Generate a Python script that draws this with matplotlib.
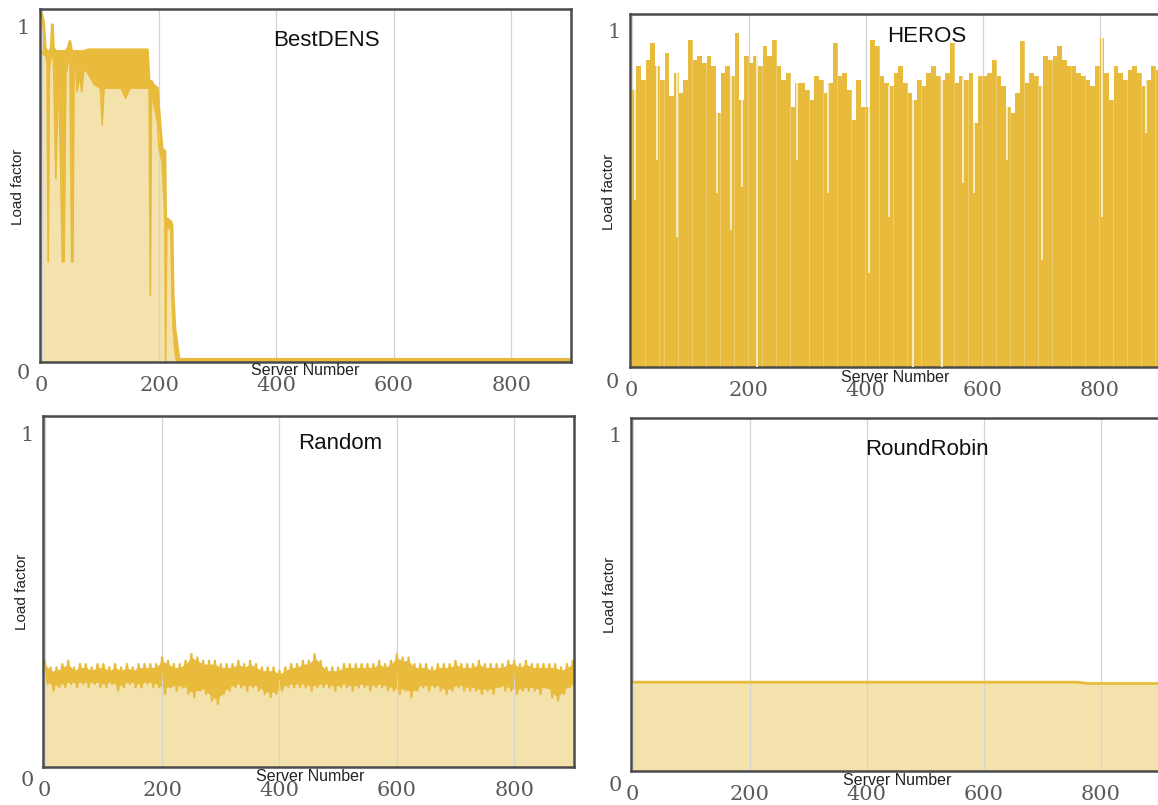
import numpy as np
import matplotlib
matplotlib.use("Agg")
import matplotlib.pyplot as plt

# colores
oro = '#E9BB3C'
oro_claro = '#F4E2AC'
marco = '#4a4a4a'

# BestDENS: envolvente superior / inferior de la carga por servidor
bd_x = [0, 3, 6, 9, 11, 13, 16, 18, 20, 24, 28, 32, 35, 38, 41, 45, 48, 51, 53, 55, 58,
        60, 65, 68, 72, 80, 90, 100, 103, 106, 115, 125, 135, 143, 150, 160, 170, 180,
        183, 185, 187, 190, 197, 200, 205, 210, 211, 213, 220, 222, 224, 227, 230, 234,
        240, 900]
bd_hi = [1.04, 1.02, 0.94, 0.93, 0.93, 0.93, 0.94, 1.01, 0.94, 0.93, 0.93, 0.93, 0.93,
         0.93, 0.93, 0.94, 0.96, 0.93, 0.93, 0.93, 0.93, 0.93, 0.93, 0.93, 0.93, 0.935,
         0.935, 0.935, 0.935, 0.935, 0.935, 0.935, 0.935, 0.935, 0.935, 0.935, 0.935,
         0.935, 0.84, 0.84, 0.84, 0.83, 0.82, 0.75, 0.64, 0.63, 0.43, 0.43, 0.42, 0.41,
         0.20, 0.10, 0.06, 0.008, 0.008, 0.008]
bd_lo = [0.93, 0.92, 0.92, 0.90, 0.30, 0.88, 0.92, 0.92, 0.90, 0.55, 0.88, 0.60, 0.30,
         0.30, 0.86, 0.90, 0.90, 0.30, 0.30, 0.88, 0.88, 0.81, 0.86, 0.81, 0.88, 0.86,
         0.83, 0.82, 0.71, 0.82, 0.82, 0.82, 0.82, 0.79, 0.82, 0.82, 0.82, 0.82, 0.82,
         0.20, 0.80, 0.78, 0.72, 0.64, 0.60, 0.43, 0.0, 0.40, 0.40, 0.20, 0.10, 0.03,
         0.0, 0.0, 0.0, 0.0]

# HEROS: altura de cada bloque de 8 servidores
hr_paso = 8
hr_alto = [0.83, 0.90, 0.86, 0.92, 0.97, 0.90, 0.86, 0.94, 0.81, 0.88, 0.82, 0.86, 0.98,
           0.92, 0.93, 0.91, 0.93, 0.90, 0.76, 0.88, 0.90, 0.87, 1.00, 0.80, 0.93, 0.91,
           0.93, 0.90, 0.96, 0.93, 0.98, 0.90, 0.86, 0.88, 0.78, 0.85, 0.85, 0.83, 0.80,
           0.87, 0.86, 0.82, 0.85, 0.97, 0.87, 0.88, 0.83, 0.74, 0.86, 0.78, 0.78, 0.98,
           0.96, 0.87, 0.85, 0.84, 0.88, 0.90, 0.85, 0.82, 0.80, 0.86, 0.84, 0.88, 0.90,
           0.87, 0.86, 0.88, 0.97, 0.85, 0.87, 0.86, 0.88, 0.73, 0.87, 0.87, 0.88, 0.92,
           0.87, 0.84, 0.78, 0.76, 0.82, 0.975, 0.85, 0.88, 0.87, 0.84, 0.93, 0.92, 0.93,
           0.96, 0.92, 0.90, 0.90, 0.88, 0.87, 0.86, 0.84, 0.90, 0.985, 0.88, 0.80, 0.90,
           0.88, 0.86, 0.89, 0.90, 0.88, 0.84, 0.86, 0.90, 0.89]
# HEROS: servidores con carga baja (rendijas) y su valor
hr_hueco_x = [6, 44, 77, 145, 170, 188, 214, 283, 336, 405, 440, 481, 531, 566, 585, 641,
              701, 804, 880]
hr_hueco_y = [0.50, 0.62, 0.39, 0.52, 0.41, 0.54, 0.0, 0.62, 0.52, 0.28, 0.45, 0.0, 0.0,
              0.55, 0.52, 0.62, 0.32, 0.45, 0.70]

# Random: picos (servidores 0,10,...) y valles (5,15,...)
rnd_picos = [0.32, 0.30, 0.30, 0.31, 0.32, 0.30, 0.31, 0.31, 0.30, 0.31, 0.31, 0.30,
             0.31, 0.30, 0.31, 0.30, 0.31, 0.31, 0.31, 0.31, 0.33, 0.32, 0.31, 0.31,
             0.32, 0.34, 0.33, 0.32, 0.32, 0.32, 0.31, 0.31, 0.31, 0.32, 0.31, 0.32,
             0.31, 0.30, 0.30, 0.30, 0.29, 0.30, 0.31, 0.31, 0.32, 0.32, 0.34, 0.32,
             0.30, 0.30, 0.30, 0.31, 0.31, 0.31, 0.31, 0.31, 0.31, 0.32, 0.31, 0.32,
             0.34, 0.33, 0.33, 0.31, 0.31, 0.31, 0.30, 0.31, 0.31, 0.31, 0.32, 0.31,
             0.31, 0.31, 0.32, 0.31, 0.31, 0.31, 0.31, 0.32, 0.32, 0.31, 0.32, 0.31,
             0.31, 0.31, 0.31, 0.31, 0.30, 0.31, 0.32]
rnd_valles = [0.25, 0.23, 0.24, 0.24, 0.25, 0.24, 0.25, 0.24, 0.25, 0.24, 0.24, 0.25,
              0.23, 0.24, 0.25, 0.24, 0.24, 0.25, 0.24, 0.24, 0.22, 0.24, 0.23, 0.24,
              0.22, 0.21, 0.23, 0.22, 0.20, 0.19, 0.22, 0.23, 0.24, 0.24, 0.23, 0.24,
              0.23, 0.22, 0.21, 0.22, 0.23, 0.24, 0.24, 0.24, 0.24, 0.23, 0.24, 0.24,
              0.24, 0.23, 0.24, 0.24, 0.23, 0.24, 0.24, 0.23, 0.24, 0.24, 0.23, 0.23,
              0.22, 0.23, 0.21, 0.23, 0.24, 0.23, 0.24, 0.23, 0.22, 0.23, 0.24, 0.23,
              0.23, 0.23, 0.22, 0.23, 0.22, 0.24, 0.23, 0.23, 0.22, 0.23, 0.23, 0.23,
              0.22, 0.24, 0.21, 0.20, 0.22, 0.24]

# RoundRobin
rr_x = [0, 760, 780, 902]
rr_y = [0.266, 0.266, 0.262, 0.262]

# intercalar picos y valles
rnd_px = np.arange(len(rnd_picos)) * 10
rnd_vx = np.arange(len(rnd_valles)) * 10 + 5
rnd_x = []
rnd_y = []
for i, p in enumerate(rnd_picos):
    rnd_x.append(rnd_px[i])
    rnd_y.append(p)
    if i < len(rnd_valles):
        rnd_x.append(rnd_vx[i])
        rnd_y.append(rnd_valles[i])

W, H = 1158, 805
fig = plt.figure(figsize=(W / 100, H / 100), dpi=100)


def caja(l, t, r, b):
    return [l / W, 1 - b / H, (r - l) / W, (b - t) / H]


def texto(x, y, s, **kw):
    fig.text(x / W, 1 - y / H, s, ha='center', va='center', **kw)


paneles = [
    ('BestDENS', caja(40, 9, 571, 362), (-3, 902), (326, 40)),
    ('HEROS', caja(630, 14, 1161, 367), (-3, 905), (927, 37)),
    ('Random', caja(43, 416, 574, 767), (-3, 902), (340, 443)),
    ('RoundRobin', caja(631, 418, 1162, 771), (-3, 905), (927, 449)),
]

ejes = {}
for nombre, pos, xl, tpos in paneles:
    ax = fig.add_axes(pos)
    ax.set_xlim(*xl)
    ax.set_ylim(0, 1.057)
    ax.set_xticks([0, 200, 400, 600, 800])
    ax.set_yticks([])
    ax.tick_params(axis='x', length=0, pad=10, labelsize=15, labelcolor='#5a5a5a')
    for lab in ax.get_xticklabels():
        lab.set_family('DejaVu Serif')
    ax.grid(axis='x', color='#d4d4d4', linewidth=0.9)
    for sp in ax.spines.values():
        sp.set_color(marco)
        sp.set_linewidth(1.8)
    ejes[nombre] = ax
    texto(tpos[0], tpos[1], nombre, fontsize=16, family='Liberation Sans', color='#111111')

# BestDENS
ax = ejes['BestDENS']
ax.set_axisbelow('line')
ax.fill_between(bd_x, 0, bd_lo, color=oro_claro, linewidth=0, zorder=1)
ax.fill_between(bd_x, bd_lo, bd_hi, color=oro, linewidth=0, zorder=1.2)
ax.plot(bd_x, bd_hi, color=oro, linewidth=2, zorder=2)
ax.plot(bd_x, bd_lo, color=oro, linewidth=1.2, zorder=2)

# HEROS: bloques con rendijas finas entre ellos
ax = ejes['HEROS']
ax.set_axisbelow(True)
hr_x = np.arange(len(hr_alto)) * hr_paso
ax.fill_between(np.append(hr_x, hr_x[-1] + hr_paso), 0, np.append(hr_alto, hr_alto[-1]),
                step='post', color='#EDCB6A', linewidth=0, zorder=1)
ax.bar(hr_x, hr_alto, width=hr_paso * 0.93, align='edge', color=oro, linewidth=0, zorder=2)
tope = [hr_alto[min(int(x // hr_paso), len(hr_alto) - 1)] for x in hr_hueco_x]
ax.vlines(hr_hueco_x, hr_hueco_y, tope, color='#F8EBC4', linewidth=1.4, zorder=3)

# Random
ax = ejes['Random']
ax.set_axisbelow('line')
ax.fill_between(rnd_x, 0, rnd_y, color=oro_claro, linewidth=0, zorder=1)
ax.fill_between(rnd_px, np.interp(rnd_px, rnd_vx, rnd_valles) + 0.01, np.array(rnd_picos) - 0.01,
                color=oro, linewidth=0, zorder=1.2)
ax.plot(rnd_x, rnd_y, color=oro, linewidth=1.6, zorder=2)

# RoundRobin
ax = ejes['RoundRobin']
ax.set_axisbelow('line')
ax.fill_between(rr_x, 0, rr_y, color=oro_claro, linewidth=0, zorder=1)
ax.plot(rr_x, rr_y, color=oro, linewidth=2, zorder=2)

# etiquetas de eje y valores 0/1 (como en la captura)
eti = dict(fontsize=15, family='DejaVu Serif', color='#5a5a5a')
for x1, y1, x0, y0 in [(23, 28, 23, 373), (614, 33, 612, 382),
                       (27, 435, 27, 780), (615, 436, 615, 785)]:
    texto(x1, y1, '1', **eti)
    texto(x0, y0, '0', **eti)

for x, y in [(18, 187), (609, 192), (22, 592), (610, 595)]:
    texto(x, y, 'Load factor', rotation=90, fontsize=11, family='Liberation Sans', color='#222222')
for x, y in [(305, 370), (895, 377), (310, 776), (897, 780)]:
    texto(x, y, 'Server Number', fontsize=11.5, family='Liberation Sans', color='#222222')

plt.savefig('out.png', dpi=100)
